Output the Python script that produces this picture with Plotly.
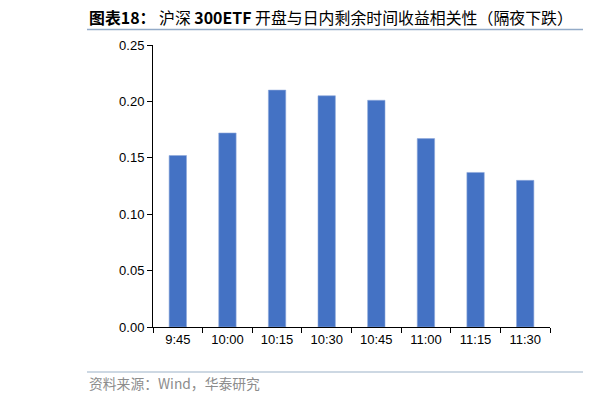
import plotly.graph_objects as go

# 沪深300ETF 开盘与日内剩余时间收益相关性（隔夜下跌）
times = ["9:45", "10:00", "10:15", "10:30", "10:45", "11:00", "11:15", "11:30"]
corr = [0.152, 0.172, 0.210, 0.205, 0.201, 0.167, 0.137, 0.130]
y_ticks = [0.00, 0.05, 0.10, 0.15, 0.20, 0.25]

# page body adds an 8px margin, so lay the figure out 8px smaller
OFF = 8
W, H = 616 - OFF, 403 - OFF
L, R, T, B = 153 - OFF, 66, 45 - OFF, 75.5
pw, ph = W - L - R, H - T - B


def px_x(x):
    return (x - OFF - L) / pw


def px_y(y):
    return (H - B - (y - OFF)) / ph


fig = go.Figure(go.Bar(
    x=times, y=corr,
    marker=dict(color="#4472C4", line=dict(color="#8FAADC", width=0.6)),
    hoverinfo="x+y",
))

cjk = "Noto Sans CJK SC"
title = "<b>图表18：</b> 沪深 <b>300ETF</b> 开盘与日内剩余时间收益相关性（隔夜下跌）"

fig.update_layout(
    width=W, height=H,
    margin=dict(l=L, r=R, t=T, b=B),
    paper_bgcolor="white", plot_bgcolor="white",
    bargap=0.65,
    showlegend=False,
    font=dict(family="Liberation Sans, Arial", size=12, color="#000"),
    xaxis=dict(
        type="category", showgrid=False, zeroline=False,
        showline=True, linecolor="#000", linewidth=1,
        ticks="outside", ticklen=5, tickcolor="#000",
        tickson="boundaries",
        tickfont=dict(size=13),
    ),
    yaxis=dict(
        range=[0, 0.25], tickvals=y_ticks, tickformat=".2f",
        showgrid=False, zeroline=False,
        showline=True, linecolor="#000", linewidth=1,
        ticks="outside", ticklen=5, tickcolor="#000",
        tickfont=dict(size=13),
    ),
    shapes=[
        dict(type="line", xref="paper", yref="paper",
             x0=px_x(87), x1=px_x(583), y0=px_y(29.5), y1=px_y(29.5),
             line=dict(color="#93ABC8", width=1.5)),
        dict(type="line", xref="paper", yref="paper",
             x0=px_x(612), x1=px_x(640), y0=px_y(29.5), y1=px_y(29.5),
             line=dict(color="#93ABC8", width=1.5)),
        dict(type="line", xref="paper", yref="paper",
             x0=px_x(87), x1=px_x(583), y0=px_y(372.5), y1=px_y(372.5),
             line=dict(color="#CDD8E3", width=2)),
        dict(type="line", xref="paper", yref="paper",
             x0=px_x(611), x1=px_x(640), y0=px_y(372.5), y1=px_y(372.5),
             line=dict(color="#CDD8E3", width=2)),
    ],
    annotations=[
        dict(text=title, xref="paper", yref="paper",
             x=px_x(87), y=px_y(17), xanchor="left", yanchor="middle",
             showarrow=False, font=dict(family=cjk, size=15.9, color="#000")),
        dict(text="<b>图</b>", xref="paper", yref="paper",
             x=px_x(606), y=px_y(17), xanchor="left", yanchor="middle",
             showarrow=False, font=dict(family=cjk, size=15.9, color="#000")),
        dict(text="资料来源：Wind，华泰研究", xref="paper", yref="paper",
             x=px_x(87), y=px_y(383.5), xanchor="left", yanchor="middle",
             showarrow=False, font=dict(family=cjk, size=13.8, color="#8C8C8C")),
        dict(text="资", xref="paper", yref="paper",
             x=px_x(611), y=px_y(383.5), xanchor="left", yanchor="middle",
             showarrow=False, font=dict(family=cjk, size=13.8, color="#8C8C8C")),
    ],
)

fig.write_html("out.html")
